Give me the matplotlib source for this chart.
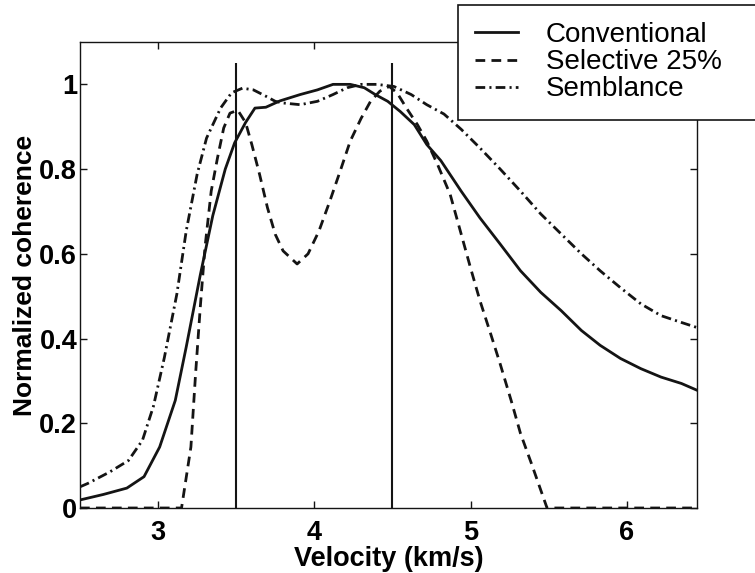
#!/usr/bin/env python3
import matplotlib
import matplotlib.pyplot as plt
import numpy as np

matplotlib.use("Agg")

# Conventional coherence (solid)
conv_v = [2.5, 2.65, 2.8, 2.91, 3.01, 3.11, 3.18, 3.27, 3.35, 3.43, 3.49, 3.56,
          3.62, 3.69, 3.78, 3.91, 4.02, 4.12, 4.23, 4.32, 4.39, 4.47, 4.55, 4.64,
          4.72, 4.81, 4.94, 5.06, 5.19, 5.32, 5.45, 5.58, 5.71, 5.83, 5.96, 6.09,
          6.22, 6.35, 6.45]
conv_c = [0.019, 0.032, 0.047, 0.074, 0.144, 0.254, 0.38, 0.55, 0.69, 0.80, 0.862,
          0.91, 0.944, 0.946, 0.961, 0.976, 0.987, 1.0, 1.0, 0.992, 0.976, 0.96,
          0.936, 0.905, 0.858, 0.82, 0.748, 0.685, 0.623, 0.56, 0.509, 0.466,
          0.419, 0.384, 0.353, 0.329, 0.309, 0.294, 0.278]

# Selective 25% (dashed)
sel_v = [2.5, 3.15, 3.21, 3.24, 3.27, 3.30, 3.34, 3.38, 3.42, 3.46, 3.51, 3.56,
         3.60, 3.65, 3.70, 3.75, 3.80, 3.89, 3.96, 4.03, 4.10, 4.17, 4.23, 4.30,
         4.36, 4.42, 4.48, 4.53, 4.59, 4.66, 4.72, 4.79, 4.87, 4.94, 5.0, 5.06,
         5.13, 5.19, 5.26, 5.32, 5.39, 5.45, 5.49, 6.45]
sel_c = [0.0, 0.0, 0.144, 0.317, 0.474, 0.615, 0.748, 0.826, 0.897, 0.932, 0.939,
         0.91, 0.858, 0.787, 0.709, 0.646, 0.607, 0.576, 0.60, 0.654, 0.725, 0.80,
         0.866, 0.92, 0.96, 0.984, 0.995, 0.98, 0.944, 0.905, 0.866, 0.81, 0.74,
         0.647, 0.567, 0.49, 0.41, 0.34, 0.254, 0.176, 0.105, 0.042, 0.0, 0.0]

# Semblance (dash-dot)
semb_v = [2.5, 2.55, 2.69, 2.81, 2.90, 2.97, 3.04, 3.12, 3.18, 3.25, 3.31, 3.40,
          3.47, 3.54, 3.61, 3.69, 3.75, 3.80, 3.91, 4.02, 4.12, 4.21, 4.30, 4.40,
          4.51, 4.62, 4.72, 4.83, 4.94, 5.06, 5.19, 5.32, 5.45, 5.58, 5.71, 5.83,
          5.96, 6.09, 6.22, 6.35, 6.45]
semb_c = [0.05, 0.058, 0.085, 0.112, 0.16, 0.24, 0.355, 0.505, 0.654, 0.788, 0.873,
          0.944, 0.98, 0.991, 0.987, 0.972, 0.96, 0.956, 0.952, 0.96, 0.976, 0.992,
          1.0, 1.0, 0.995, 0.976, 0.952, 0.93, 0.894, 0.85, 0.80, 0.748, 0.694,
          0.647, 0.60, 0.56, 0.52, 0.482, 0.454, 0.438, 0.426]

# vertical marker lines
marker_v = [3.5, 4.5]
marker_top = 1.05

x_ticks = [3, 4, 5, 6]
y_ticks = [0, 0.2, 0.4, 0.6, 0.8, 1.0]
y_tick_labels = ["0", "0.2", "0.4", "0.6", "0.8", "1"]

plt.rcParams["lines.scale_dashes"] = False
ink = "#141414"

fig = plt.figure(figsize=(7.55, 5.73), dpi=100)
ax = fig.add_axes([80 / 755, 65 / 573, 617 / 755, 466 / 573])

ax.plot(conv_v, conv_c, color=ink, linewidth=2.0, label="Conventional")
ax.plot(sel_v, sel_c, color=ink, linewidth=2.0, dashes=(7, 4.5),
        label="Selective 25%")
ax.plot(semb_v, semb_c, color=ink, linewidth=2.0, dashes=(7, 3, 1.5, 3),
        label="Semblance")
ax.vlines(marker_v, 0, marker_top, color=ink, linewidth=1.5)

ax.set_xlim(2.5, 6.45)
ax.set_ylim(0, 1.1)
ax.set_xticks(x_ticks)
ax.set_xticklabels([str(t) for t in x_ticks])
ax.set_yticks(y_ticks)
ax.set_yticklabels(y_tick_labels)
ax.tick_params(direction="in", top=True, right=True, length=5, width=1.0,
               color=ink)
ax.tick_params(axis="x", pad=9)
ax.tick_params(axis="y", pad=2)
for lab in ax.get_xticklabels() + ax.get_yticklabels():
    lab.set_family("Liberation Sans")
    lab.set_fontsize(19.5)
    lab.set_fontweight("bold")
for sp in ax.spines.values():
    sp.set_linewidth(1.0)
    sp.set_color(ink)

ax.set_xlabel("Velocity (km/s)", fontsize=19.5, fontweight="bold",
              family="Liberation Sans", labelpad=0)
ax.set_ylabel("Normalized coherence", fontsize=19, fontweight="bold",
              family="Liberation Sans", labelpad=2)

leg = ax.legend(loc="upper left", bbox_to_anchor=(458 / 755, 0, 0.45, 1 - 5 / 573),
                bbox_transform=fig.transFigure, mode="expand", borderaxespad=0,
                fancybox=False, framealpha=1, edgecolor=ink,
                prop={"family": "Liberation Sans", "size": 20},
                handlelength=1.55, handletextpad=1.0, borderpad=0.62,
                labelspacing=0.04)
leg.get_frame().set_linewidth(1.2)

plt.savefig("out.png", dpi=100)
plt.close()
